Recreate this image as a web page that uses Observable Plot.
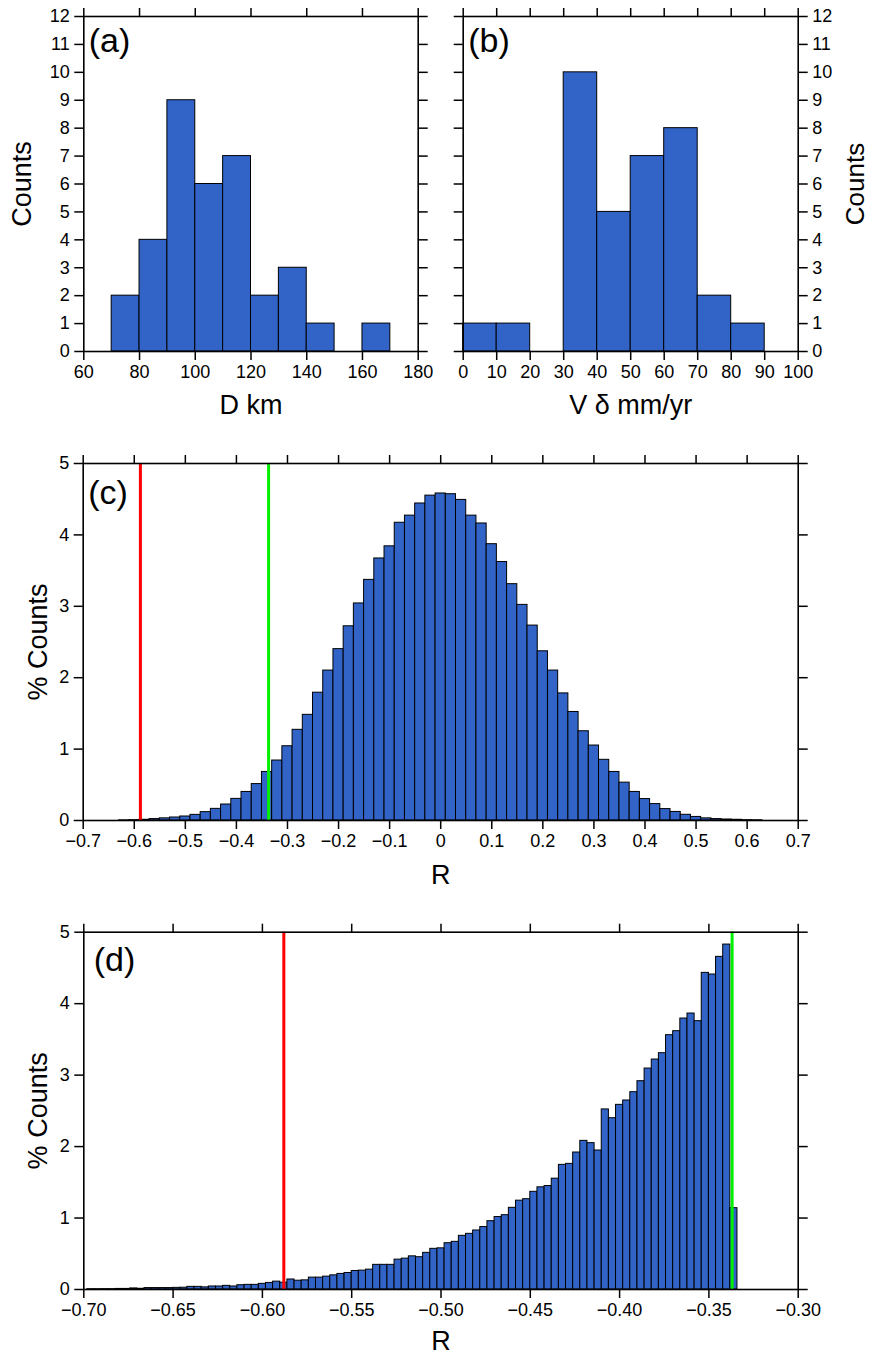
<!DOCTYPE html>
<html><head><meta charset="utf-8">
<script src="https://cdn.jsdelivr.net/npm/d3@7"></script>
<script src="https://cdn.jsdelivr.net/npm/@observablehq/plot@0.6"></script>
<style>
body{margin:0;background:#fff;}
#root{position:relative;width:871px;height:1356px;overflow:hidden;background:#fff;}
</style></head><body><div id="root"></div>
<script>
// ---------- data ----------
// (a) D km histogram
const binStartA = 70, binWidthA = 10;
const countsA = [2, 4, 9, 6, 7, 2, 3, 1, 0, 1];
const xTicksA = [60, 80, 100, 120, 140, 160, 180];
const xTickLabelsA = ["60", "80", "100", "120", "140", "160", "180"];
const yTicksAB = [0,1,2,3,4,5,6,7,8,9,10,11,12];
const yTickLabelsAB = ["0","1","2","3","4","5","6","7","8","9","10","11","12"];
// (b) V delta histogram
const binStartB = 0, binWidthB = 10;
const countsB = [1, 1, 0, 10, 5, 7, 8, 2, 1];
const xTicksB = [0,10,20,30,40,50,60,70,80,90,100];
const xTickLabelsB = ["0","10","20","30","40","50","60","70","80","90","100"];
// (c) R distribution, % counts (bins of 0.02 starting at -0.63)
const binStartC = -0.63, binWidthC = 0.02;
const pctC = [0.002,0.005,0.01,0.02,0.03,0.042,0.056,0.079,0.117,0.163,
  0.224,0.303,0.40,0.51,0.68,0.84,1.04,1.27,1.48,1.79,
  2.10,2.40,2.72,3.04,3.37,3.67,3.84,4.17,4.27,4.44,
  4.55,4.58,4.57,4.49,4.27,4.16,3.87,3.62,3.31,3.02,
  2.73,2.37,2.10,1.78,1.52,1.25,1.05,0.85,0.68,0.53,
  0.40,0.30,0.23,0.16,0.12,0.08,0.05,0.03,0.02,0.014,
  0.01,0.005,0.003];
const xTicksC = [-0.7,-0.6,-0.5,-0.4,-0.3,-0.2,-0.1,0,0.1,0.2,0.3,0.4,0.5,0.6,0.7];
const xTickLabelsC = ["\u22120.7","\u22120.6","\u22120.5","\u22120.4","\u22120.3","\u22120.2","\u22120.1","0","0.1","0.2","0.3","0.4","0.5","0.6","0.7"];
const yTicksCD = [0,1,2,3,4,5];
const yTickLabelsCD = ["0","1","2","3","4","5"];
// (d) R distribution (bins of 0.004 starting at -0.698)
const binStartD = -0.698, binWidthD = 0.004;
const pctD = [0.004,0.004,0.005,0.005,0.008,0.008,0.015,0.01,0.02,0.02,
  0.02,0.02,0.023,0.025,0.037,0.037,0.03,0.042,0.042,0.051,
  0.042,0.06,0.065,0.065,0.079,0.092,0.11,0.095,0.14,0.123,
  0.128,0.166,0.166,0.18,0.198,0.218,0.231,0.259,0.264,0.278,
  0.345,0.345,0.345,0.418,0.432,0.464,0.452,0.513,0.569,0.576,
  0.648,0.667,0.751,0.779,0.826,0.874,0.956,1.014,1.04,1.143,
  1.243,1.264,1.367,1.43,1.448,1.551,1.744,1.758,1.917,2.08,
  2.048,1.945,2.52,2.397,2.584,2.645,2.761,2.915,3.092,3.218,
  3.307,3.559,3.615,3.792,3.862,3.755,4.431,4.408,4.655,4.827,
  1.138];
const xTicksD = [-0.70,-0.65,-0.60,-0.55,-0.50,-0.45,-0.40,-0.35,-0.30];
const xTickLabelsD = ["\u22120.70","\u22120.65","\u22120.60","\u22120.55","\u22120.50","\u22120.45","\u22120.40","\u22120.35","\u22120.30"];
const redR = -0.588, greenR = -0.337;

// ---------- helpers ----------
const FONT = "'Liberation Sans', Arial, Helvetica, sans-serif";
const BAR = "#3264c8";
const root = document.getElementById("root");

function toBins(values, start, width) {
  return values.map((v, i) => ({x1: start + i * width, x2: start + (i + 1) * width, y: v})).filter(d => d.y > 0);
}
function fmt(ticks, labels) { return d => labels[ticks.indexOf(d)] ?? ""; }

function axes(o) {
  const common = {tickSize: 9, strokeWidth: 1.5, stroke: "black", fill: "black", fontSize: 18, label: null};
  return [
    Plot.axisX({...common, anchor: "bottom", ticks: o.xTicks, tickFormat: fmt(o.xTicks, o.xLabels), tickPadding: 5}),
    Plot.axisX({...common, anchor: "top", ticks: o.xTicks, tickFormat: () => ""}),
    Plot.axisY({...common, anchor: "left", ticks: o.yTicks, tickPadding: 5,
      tickFormat: o.ySide === "left" ? fmt(o.yTicks, o.yLabels) : () => ""}),
    Plot.axisY({...common, anchor: "right", ticks: o.yTicks, tickPadding: 5,
      tickFormat: o.ySide === "right" ? fmt(o.yTicks, o.yLabels) : () => ""})
  ];
}

function place(svg, left, top) {
  svg.style.position = "absolute";
  svg.style.left = left + "px";
  svg.style.top = top + "px";
  root.appendChild(svg);
}

function bars(data) {
  return Plot.rect(data, {x1: "x1", x2: "x2", y1: d => 0, y2: "y", fill: BAR, stroke: "black", strokeWidth: 1});
}

// ---------- (a) ----------
place(Plot.plot({
  width: 440, height: 420,
  marginLeft: 83.3, marginRight: 22.3, marginTop: 16, marginBottom: 69,
  style: {fontFamily: FONT, color: "black", background: "transparent", overflow: "visible"},
  x: {domain: [60, 180]}, y: {domain: [0, 12]},
  marks: [
    bars(toBins(countsA, binStartA, binWidthA)),
    ...axes({xTicks: xTicksA, xLabels: xTickLabelsA, yTicks: yTicksAB, yLabels: yTickLabelsAB, ySide: "left"}),
    Plot.frame({stroke: "black", strokeWidth: 1.6}),
    Plot.text(["(a)"], {text: d => d, frameAnchor: "top-left", textAnchor: "start", lineAnchor: "bottom", dx: 5, dy: 35, fontSize: 34, fill: "black"}),
    Plot.text(["Counts"], {text: d => d, frameAnchor: "left", rotate: -90, textAnchor: "middle", lineAnchor: "middle", dx: -61, fontSize: 27, fill: "black"}),
    Plot.text(["D km"], {text: d => d, frameAnchor: "bottom", textAnchor: "middle", lineAnchor: "bottom", dy: 62, fontSize: 27, fill: "black"})
  ]
}), 0, 0);

// ---------- (b) ----------
place(Plot.plot({
  width: 431, height: 420,
  marginLeft: 22.7, marginRight: 73.3, marginTop: 16, marginBottom: 69,
  style: {fontFamily: FONT, color: "black", background: "transparent", overflow: "visible"},
  x: {domain: [0, 100]}, y: {domain: [0, 12]},
  marks: [
    bars(toBins(countsB, binStartB, binWidthB)),
    ...axes({xTicks: xTicksB, xLabels: xTickLabelsB, yTicks: yTicksAB, yLabels: yTickLabelsAB, ySide: "right"}),
    Plot.frame({stroke: "black", strokeWidth: 1.6}),
    Plot.text(["(b)"], {text: d => d, frameAnchor: "top-left", textAnchor: "start", lineAnchor: "bottom", dx: 5, dy: 35, fontSize: 34, fill: "black"}),
    Plot.text(["Counts"], {text: d => d, frameAnchor: "right", rotate: -90, textAnchor: "middle", lineAnchor: "middle", dx: 57, fontSize: 26, fill: "black"}),
    Plot.text(["V \u03b4 mm/yr"], {text: d => d, frameAnchor: "bottom", textAnchor: "middle", lineAnchor: "bottom", dy: 62, fontSize: 27, fill: "black"})
  ]
}), 440, 0);

// ---------- (c) ----------
place(Plot.plot({
  width: 871, height: 470,
  marginLeft: 82.7, marginRight: 73.3, marginTop: 33, marginBottom: 80,
  style: {fontFamily: FONT, color: "black", background: "transparent", overflow: "visible"},
  x: {domain: [-0.7, 0.7]}, y: {domain: [0, 5]},
  marks: [
    bars(toBins(pctC, binStartC, binWidthC)),
    Plot.ruleX([redR], {x: d => d, stroke: "#ff0000", strokeWidth: 3}),
    Plot.ruleX([greenR], {x: d => d, stroke: "#00f000", strokeWidth: 3}),
    ...axes({xTicks: xTicksC, xLabels: xTickLabelsC, yTicks: yTicksCD, yLabels: yTickLabelsCD, ySide: "left"}),
    Plot.frame({stroke: "black", strokeWidth: 1.6}),
    Plot.text(["(c)"], {text: d => d, frameAnchor: "top-left", textAnchor: "start", lineAnchor: "bottom", dx: 5, dy: 40, fontSize: 34, fill: "black"}),
    Plot.text(["% Counts"], {text: d => d, frameAnchor: "left", rotate: -90, textAnchor: "middle", lineAnchor: "middle", dx: -45, fontSize: 27, fill: "black"}),
    Plot.text(["R"], {text: d => d, frameAnchor: "bottom", textAnchor: "middle", lineAnchor: "bottom", dy: 63, fontSize: 27, fill: "black"})
  ]
}), 0, 430);

// ---------- (d) ----------
place(Plot.plot({
  width: 871, height: 456,
  marginLeft: 83.3, marginRight: 73.3, marginTop: 31.7, marginBottom: 67,
  style: {fontFamily: FONT, color: "black", background: "transparent", overflow: "visible"},
  x: {domain: [-0.7, -0.3]}, y: {domain: [0, 5]},
  marks: [
    bars(toBins(pctD, binStartD, binWidthD)),
    Plot.ruleX([redR], {x: d => d, stroke: "#ff0000", strokeWidth: 3}),
    Plot.ruleX([greenR], {x: d => d, stroke: "#00f000", strokeWidth: 3}),
    ...axes({xTicks: xTicksD, xLabels: xTickLabelsD, yTicks: yTicksCD, yLabels: yTickLabelsCD, ySide: "left"}),
    Plot.frame({stroke: "black", strokeWidth: 1.6}),
    Plot.text(["(d)"], {text: d => d, frameAnchor: "top-left", textAnchor: "start", lineAnchor: "bottom", dx: 10, dy: 39, fontSize: 34, fill: "black"}),
    Plot.text(["% Counts"], {text: d => d, frameAnchor: "left", rotate: -90, textAnchor: "middle", lineAnchor: "middle", dx: -45, fontSize: 27, fill: "black"}),
    Plot.text(["R"], {text: d => d, frameAnchor: "bottom", textAnchor: "middle", lineAnchor: "bottom", dy: 60, fontSize: 27, fill: "black"})
  ]
}), 0, 900);
</script></body></html>
